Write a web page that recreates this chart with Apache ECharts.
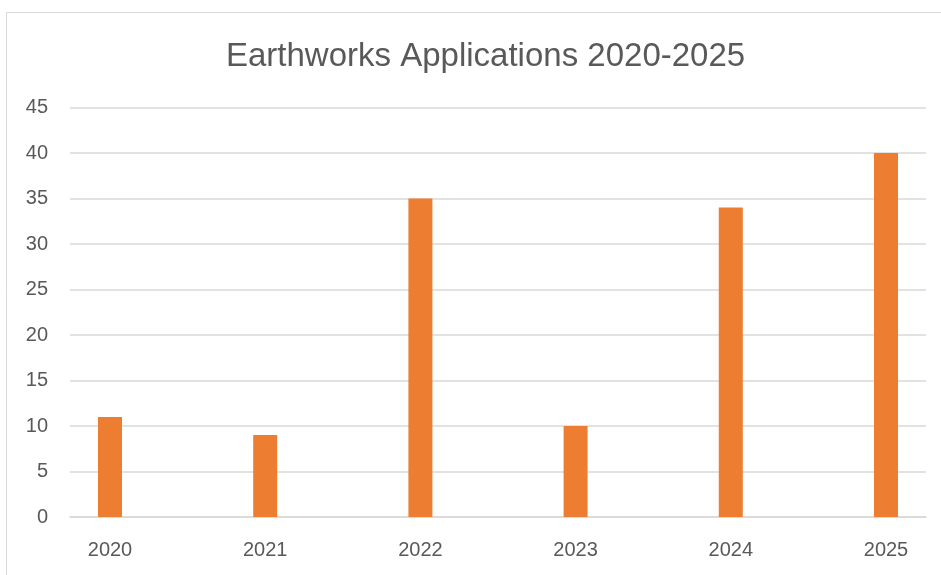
<!DOCTYPE html>
<html>
<head>
<meta charset="utf-8">
<script src="https://cdn.jsdelivr.net/npm/echarts@6/dist/echarts.min.js"></script>
<style>html,body{margin:0;padding:0;background:#fff;}#c{width:941px;height:575px;}</style>
</head>
<body>
<div id="c"></div>
<script>
const titleText = 'Earthworks Applications 2020-2025';
const categories = ['2020', '2021', '2022', '2023', '2024', '2025'];
const applications = [11, 9, 35, 10, 34, 40];
const yMin = 0, yMax = 45, yStep = 5;

const chart = echarts.init(document.getElementById('c'), null, {renderer: 'canvas'});
const labelFont = 'Liberation Sans';
chart.setOption({
  backgroundColor: '#ffffff',
  animation: false,
  graphic: [{
    type: 'rect', left: 4, top: 10,
    shape: {width: 960, height: 600},
    style: {fill: 'none', stroke: '#d9d9d9', lineWidth: 1}
  }],
  title: {
    text: titleText, left: 221, top: 35,
    textStyle: {fontFamily: labelFont, fontWeight: 'normal', fontSize: 33, color: '#595959'}
  },
  grid: [
    {left: 70, right: 15, top: 107.5, bottom: 58},
    {left: 110, right: 55, top: 107.5, bottom: 58}
  ],
  xAxis: [
    {gridIndex: 0, type: 'category', data: categories, axisLabel: {show: false}, axisTick: {show: false},
     axisLine: {lineStyle: {color: '#d9d9d9', width: 1.5}}},
    {gridIndex: 1, type: 'category', data: categories, boundaryGap: false,
     axisLine: {show: false}, axisTick: {show: false},
     axisLabel: {color: '#595959', fontFamily: labelFont, fontSize: 20, margin: 23}}
  ],
  yAxis: [
    {gridIndex: 0, type: 'value', min: yMin, max: yMax, interval: yStep,
     axisLine: {show: false}, axisTick: {show: false},
     axisLabel: {color: '#595959', fontFamily: labelFont, fontSize: 20, margin: 22},
     splitLine: {lineStyle: {color: '#d9d9d9', width: 1.5}}},
    {gridIndex: 1, type: 'value', min: yMin, max: yMax, interval: yStep, show: false,
     splitLine: {show: false}}
  ],
  series: [{
    type: 'bar', xAxisIndex: 1, yAxisIndex: 1, data: applications,
    barWidth: 24, itemStyle: {color: '#ED7D31'}
  }]
});
</script>
</body>
</html>
